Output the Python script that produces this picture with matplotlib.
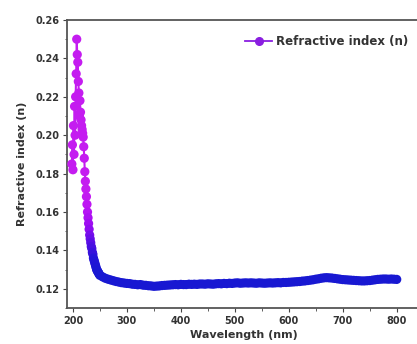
import matplotlib
matplotlib.use("Agg")
import matplotlib.pyplot as plt
from matplotlib.colors import LinearSegmentedColormap
from matplotlib.ticker import MultipleLocator
import numpy as np

# Wavelength (nm) and refractive index (n)
wl_uv = [198, 199, 200, 201, 202, 203, 204, 205, 206, 207, 208, 209, 210, 211,
         212, 213, 214, 215, 216, 217, 218, 219, 220, 221, 222, 223, 224, 225,
         226, 227, 228, 229, 230, 231, 232, 233, 234, 235, 236, 237, 238, 239,
         240, 241, 242, 243, 244, 245, 246, 247, 248, 249, 250]
n_uv = [0.185, 0.195, 0.182, 0.205, 0.190, 0.215, 0.200, 0.220, 0.232, 0.250,
        0.242, 0.238, 0.228, 0.222, 0.210, 0.218, 0.212, 0.208, 0.205, 0.203,
        0.201, 0.199, 0.194, 0.188, 0.181, 0.176, 0.172, 0.168, 0.164, 0.160,
        0.157, 0.154, 0.151, 0.148, 0.146, 0.144, 0.142, 0.141, 0.139, 0.138,
        0.136, 0.135, 0.134, 0.133, 0.132, 0.131, 0.130, 0.1295, 0.129, 0.1285,
        0.128, 0.1275, 0.127]

wl_vis = [255, 260, 265, 270, 275, 280, 285, 290, 295, 300, 305, 310, 315, 320,
          325, 330, 335, 340, 345, 350, 355, 360, 365, 370, 375, 380, 385, 390,
          395, 400, 405, 410, 415, 420, 425, 430, 435, 440, 445, 450, 455, 460,
          465, 470, 475, 480, 485, 490, 495, 500, 505, 510, 515, 520, 525, 530,
          535, 540, 545, 550, 555, 560, 565, 570, 575, 580, 585, 590, 595, 600,
          605, 610, 615, 620, 625, 630, 635, 640, 645, 650, 655, 660, 665, 670,
          675, 680, 685, 690, 695, 700, 705, 710, 715, 720, 725, 730, 735, 740,
          745, 750, 755, 760, 765, 770, 775, 780, 785, 790, 795, 800]
n_vis = [0.1262, 0.1255, 0.1250, 0.1246, 0.1242, 0.1238, 0.1235, 0.1232,
         0.1230, 0.1228, 0.1227, 0.1224, 0.1223, 0.1221, 0.1222, 0.1219,
         0.1218, 0.1216, 0.1215, 0.1213, 0.1214, 0.1215, 0.1217, 0.1218,
         0.1219, 0.1220, 0.1221, 0.1222, 0.1221, 0.1223, 0.1222, 0.1222,
         0.1224, 0.1223, 0.1224, 0.1223, 0.1225, 0.1225, 0.1224, 0.1226,
         0.1225, 0.1224, 0.1226, 0.1227, 0.1226, 0.1228, 0.1227, 0.1229,
         0.1228, 0.1230, 0.1231, 0.1229, 0.1230, 0.1231, 0.1230, 0.1231,
         0.1230, 0.1229, 0.1231, 0.1230, 0.1229, 0.1230, 0.1231, 0.1230,
         0.1231, 0.1232, 0.1231, 0.1233, 0.1233, 0.1234, 0.1235, 0.1236,
         0.1237, 0.1238, 0.1240, 0.1241, 0.1243, 0.1245, 0.1247, 0.1250,
         0.1252, 0.1255, 0.1257, 0.1258, 0.1257, 0.1256, 0.1254, 0.1252,
         0.1250, 0.1248, 0.1247, 0.1246, 0.1245, 0.1244, 0.1243, 0.1242,
         0.1241, 0.1241, 0.1242, 0.1243, 0.1245, 0.1247, 0.1249, 0.1250,
         0.1251, 0.1251, 0.1250, 0.1251, 0.1250, 0.1249]

wl = np.array(wl_uv + wl_vis, dtype=float)
n = np.array(n_uv + n_vis, dtype=float)

label = "Refractive index (n)"
xlabel = "Wavelength (nm)"
ylabel = "Refractive index (n)"

plt.rcParams['font.family'] = ['DejaVu Sans']
plt.rcParams['font.weight'] = 'bold'

fig = plt.figure(figsize=(4.17, 3.44), dpi=100)
ax = fig.add_axes([67/417, 1 - 308/344, (421 - 67)/417, (308 - 20)/344])

cmap = LinearSegmentedColormap.from_list(
    "bv", ["#1818d2", "#2414d8", "#5a0ee6", "#9a0cf2", "#bb14f4", "#c41cf0"])
norm = plt.Normalize(0.1265, 0.17)

# connecting line segments coloured along the curve
for i in range(len(wl) - 1):
    c = cmap(norm((n[i] + n[i + 1]) / 2))
    ax.plot(wl[i:i + 2], n[i:i + 2], color=c, lw=1.5, zorder=2)
ax.scatter(wl, n, c=n, cmap=cmap, norm=norm, s=44, edgecolors='none', zorder=3)

# legend proxy
ax.plot([], [], color="#8a1ee0", marker='o', ms=5.5, lw=1.3, label=label)
leg = ax.legend(loc='center left', bbox_to_anchor=(178/354, 1 - 22/288), frameon=False,
                prop={'size': 8.5, 'weight': 'bold'}, handlelength=2.3,
                handletextpad=0.35, borderaxespad=0, borderpad=0)
for t in leg.get_texts():
    t.set_color('#333333')

ax.set_xlim(189, 845)
ax.set_ylim(0.11, 0.26)
ax.set_xticks([200, 300, 400, 500, 600, 700, 800])
ax.set_yticks([0.12, 0.14, 0.16, 0.18, 0.20, 0.22, 0.24, 0.26])
ax.set_yticklabels(["0.12", "0.14", "0.16", "0.18", "0.20", "0.22", "0.24", "0.26"])
ax.xaxis.set_minor_locator(MultipleLocator(50))
ax.yaxis.set_minor_locator(MultipleLocator(0.01))
ax.tick_params(axis='both', which='major', labelsize=7, direction='out',
               length=3, width=0.8, colors='#444444', labelcolor='#333333', pad=2.5)
ax.tick_params(axis='both', which='minor', direction='out', length=1.8,
               width=0.6, colors='#444444')
ax.set_xlabel(xlabel, fontsize=8, fontweight='bold', color='#333333', labelpad=3)
ax.set_ylabel(ylabel, fontsize=8, fontweight='bold', color='#333333', labelpad=6)

for side in ['left', 'bottom', 'top']:
    ax.spines[side].set_color('#555555')
    ax.spines[side].set_linewidth(1.3)
ax.spines['right'].set_visible(False)

fig.savefig("out.png", dpi=100)
